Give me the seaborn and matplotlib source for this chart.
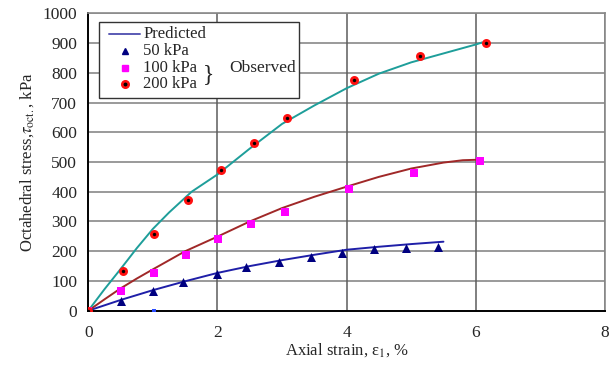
import numpy as np
import pandas as pd
import seaborn as sns
import matplotlib
matplotlib.use('Agg')
import matplotlib.pyplot as plt
from matplotlib.patches import Rectangle
from matplotlib.ticker import MultipleLocator

# observed points (strain %, octahedral stress kPa)
obs50_x = [0, 0.50, 1.00, 1.47, 1.99, 2.45, 2.96, 3.45, 3.93, 4.43, 4.92, 5.41]
obs50_y = [0, 34, 66, 98, 123, 146, 164, 180, 195, 206, 210, 214]
obs100_x = [0, 0.50, 1.01, 1.52, 2.01, 2.52, 3.04, 4.04, 5.05, 6.06]
obs100_y = [0, 67, 128, 187, 240, 290, 333, 408, 464, 504]
obs200_x = [0, 0.53, 1.02, 1.54, 2.05, 2.57, 3.08, 4.12, 5.13, 6.16]
obs200_y = [0, 134, 258, 372, 474, 563, 648, 776, 857, 899]
stray_x = [1.02]
stray_y = [0]

# predicted curves
pred50_x = [0, 0.5, 1.0, 1.5, 2.0, 2.5, 3.0, 3.5, 4.0, 4.5, 5.0, 5.5]
pred50_y = [0, 36, 69, 99, 127, 150, 170, 188, 205, 215, 224, 232]
pred100_x = [0, 0.25, 0.5, 0.75, 1.0, 1.5, 2.0, 2.5, 3.0, 3.5, 4.0, 4.5, 5.0, 5.5, 5.8, 6.1]
pred100_y = [0, 38, 75, 108, 139, 200, 249, 300, 345, 383, 417, 450, 478, 498, 506, 508]
pred200_x = [0, 0.25, 0.5, 0.75, 1.0, 1.25, 1.5, 1.6, 2.0, 2.5, 3.0, 3.5, 4.0, 4.5, 5.0, 5.5, 6.0, 6.1]
pred200_y = [0, 72, 140, 210, 275, 330, 380, 400, 458, 545, 628, 690, 748, 797, 835, 865, 895, 902]

legend_labels = ['Predicted', '50 kPa', '100 kPa', '200 kPa']

sns.set_style("white")
plt.rcParams['font.family'] = ['Liberation Serif', 'DejaVu Serif']
plt.rcParams['mathtext.fontset'] = 'stix'

fig = plt.figure(figsize=(6.11, 3.67), dpi=100)
ax = fig.add_axes([0.1445, 0.1534, 0.8455, 0.8104])

# grid
for v in range(100, 1001, 100):
    ax.axhline(v, color='#9a9a9a', lw=1.4, zorder=0)
for v in [2, 4, 6, 8]:
    ax.axvline(v, color='#5c5c5c', lw=1.1, zorder=0)

pred = pd.concat([
    pd.DataFrame({'x': pred50_x, 'y': pred50_y, 'p': '50'}),
    pd.DataFrame({'x': pred100_x, 'y': pred100_y, 'p': '100'}),
    pd.DataFrame({'x': pred200_x, 'y': pred200_y, 'p': '200'}),
])
line_cols = {'50': '#1f1fa8', '100': '#a02828', '200': '#1e9e9a'}
sns.lineplot(data=pred, x='x', y='y', hue='p', palette=line_cols, lw=1.4,
             sort=False, legend=False, ax=ax, zorder=2)

sns.scatterplot(x=obs50_x, y=obs50_y, marker='^', color='#000080', s=42,
                linewidth=0, ax=ax, zorder=3)
sns.scatterplot(x=obs100_x, y=obs100_y, marker='s', color='#ff00ff', s=40,
                linewidth=0, ax=ax, zorder=3)
sns.scatterplot(x=obs200_x, y=obs200_y, marker='o', color='#ff1010', s=42,
                linewidth=0, ax=ax, zorder=3)
sns.scatterplot(x=obs200_x, y=obs200_y, marker='o', color='black', s=6,
                linewidth=0, ax=ax, zorder=4)
sns.scatterplot(x=stray_x, y=stray_y, marker='s', color='#2a4cff', s=10,
                linewidth=0, ax=ax, zorder=3)

ax.set_xlim(0, 8)
ax.set_ylim(0, 1000)
ax.xaxis.set_major_locator(MultipleLocator(2))
ax.xaxis.set_minor_locator(MultipleLocator(0.4))
ax.yaxis.set_major_locator(MultipleLocator(100))
ax.yaxis.set_minor_locator(MultipleLocator(20))
ax.tick_params(axis='both', which='major', direction='inout', length=9, width=1.2,
               labelsize=12.5, color='black', pad=3)
ax.tick_params(axis='y', which='major', length=6, pad=5)
ax.tick_params(axis='x', which='major', pad=6)
ax.tick_params(axis='x', which='minor', direction='in', length=4.5, width=1.2, color='black')
ax.tick_params(axis='y', which='minor', direction='in', length=3, width=1, color='black')

for s in ['left', 'bottom']:
    ax.spines[s].set_color('black')
    ax.spines[s].set_linewidth(1.4)
for s in ['top', 'right']:
    ax.spines[s].set_color('#8a8a8a')
    ax.spines[s].set_linewidth(1.2)

ax.set_xlabel('Axial strain, ε$_1$, %', fontsize=12, labelpad=0)
ax.set_ylabel(r'Octahedral stress,$\tau_{\rm oct.}$, kPa', fontsize=12, labelpad=5)

# legend box drawn by hand so the brace and "Observed" fit inside
ax.add_patch(Rectangle((0.021, 0.715), 0.387, 0.255, transform=ax.transAxes,
                       facecolor='white', edgecolor='#333333', lw=1.0, zorder=5))
rows = [0.929, 0.872, 0.816, 0.761]
tx, mx = 0.106, 0.0705
ax.plot([0.040, 0.100], [rows[0], rows[0]], color='#5a5ab4', lw=1.4,
        transform=ax.transAxes, zorder=6, clip_on=False)
ax.plot([mx], [rows[1]], marker='^', color='#000080', ms=5, ls='',
        transform=ax.transAxes, zorder=6)
ax.plot([mx], [rows[2]], marker='s', color='#ff00ff', ms=5, ls='',
        transform=ax.transAxes, zorder=6)
ax.plot([mx], [rows[3]], marker='o', color='#ff1010', ms=5.5, ls='',
        transform=ax.transAxes, zorder=6)
ax.plot([mx], [rows[3]], marker='o', color='black', ms=1.8, ls='',
        transform=ax.transAxes, zorder=7)
for lab, ry in zip(legend_labels, rows):
    ax.text(tx, ry, lab, transform=ax.transAxes, fontsize=12, va='center',
            ha='left', zorder=7)
ax.text(0.232, 0.795, '}', transform=ax.transAxes, fontsize=17, va='center',
        ha='center', zorder=7)
ax.text(0.272, 0.816, 'Observed', transform=ax.transAxes, fontsize=12.5,
        va='center', ha='left', zorder=7)

fig.savefig('out.png', dpi=100)
